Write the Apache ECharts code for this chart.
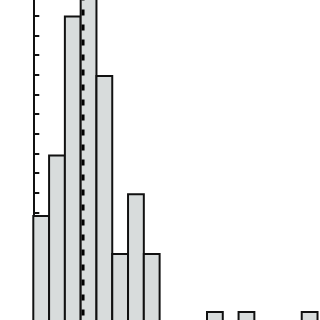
<!DOCTYPE html>
<html>
<head>
<meta charset="utf-8">
<script src="https://cdn.jsdelivr.net/npm/echarts@6/dist/echarts.min.js"></script>
<style>
html,body{margin:0;padding:0;background:#fff;overflow:hidden;width:320px;height:320px;}
#c{position:absolute;left:0;top:-4px;width:320px;height:350px;}
</style>
</head>
<body>
<div id="c"></div>
<script>
// bin start positions (bin units) and bar heights (tick units)
var binStarts = [0,1,2,3,4,5,6,7,8,9,10,11,12,13,14,15,16,17];
var counts    = [5.82,8.89,15.96,17.5,12.93,3.88,6.92,3.88,0,0,0,0.93,0,0.93,0,0,0,0.93];
var binWidth = 1;
var meanLine = [3.15];

var chart = echarts.init(document.getElementById('c'), null, {renderer:'canvas'});
var barData = binStarts.map(function(s,i){ return [s, counts[i]]; });

chart.setOption({
  animation:false,
  grid:{left:2,right:0,top:0,height:334.4},
  xAxis:{type:'value',min:-1.982,max:18.157,show:false},
  yAxis:{type:'value',min:0,max:17,interval:1,
    axisLine:{show:true,lineStyle:{color:'#111',width:2}},
    axisTick:{show:true,inside:true,length:6,lineStyle:{color:'#111',width:2}},
    axisLabel:{show:false},splitLine:{show:false}},
  series:[
    {type:'custom',clip:true,data:barData,
     renderItem:function(params,api){
       var v = api.value(1);
       if(!v) return null;
       var x0 = api.value(0);
       var p1 = api.coord([x0, v]);
       var p2 = api.coord([x0+binWidth, 0]);
       return {type:'rect',shape:{x:p1[0],y:p1[1],width:p2[0]-p1[0],height:p2[1]-p1[1]},
         style:{fill:'#d8dcdc',stroke:'#111',lineWidth:2}};
     }},
    {type:'line',data:[[meanLine[0],0],[meanLine[0],17]],symbol:'none',
     lineStyle:{color:'#000',width:3,type:[6,9]},z:5}
  ]
});
</script>
</body>
</html>
